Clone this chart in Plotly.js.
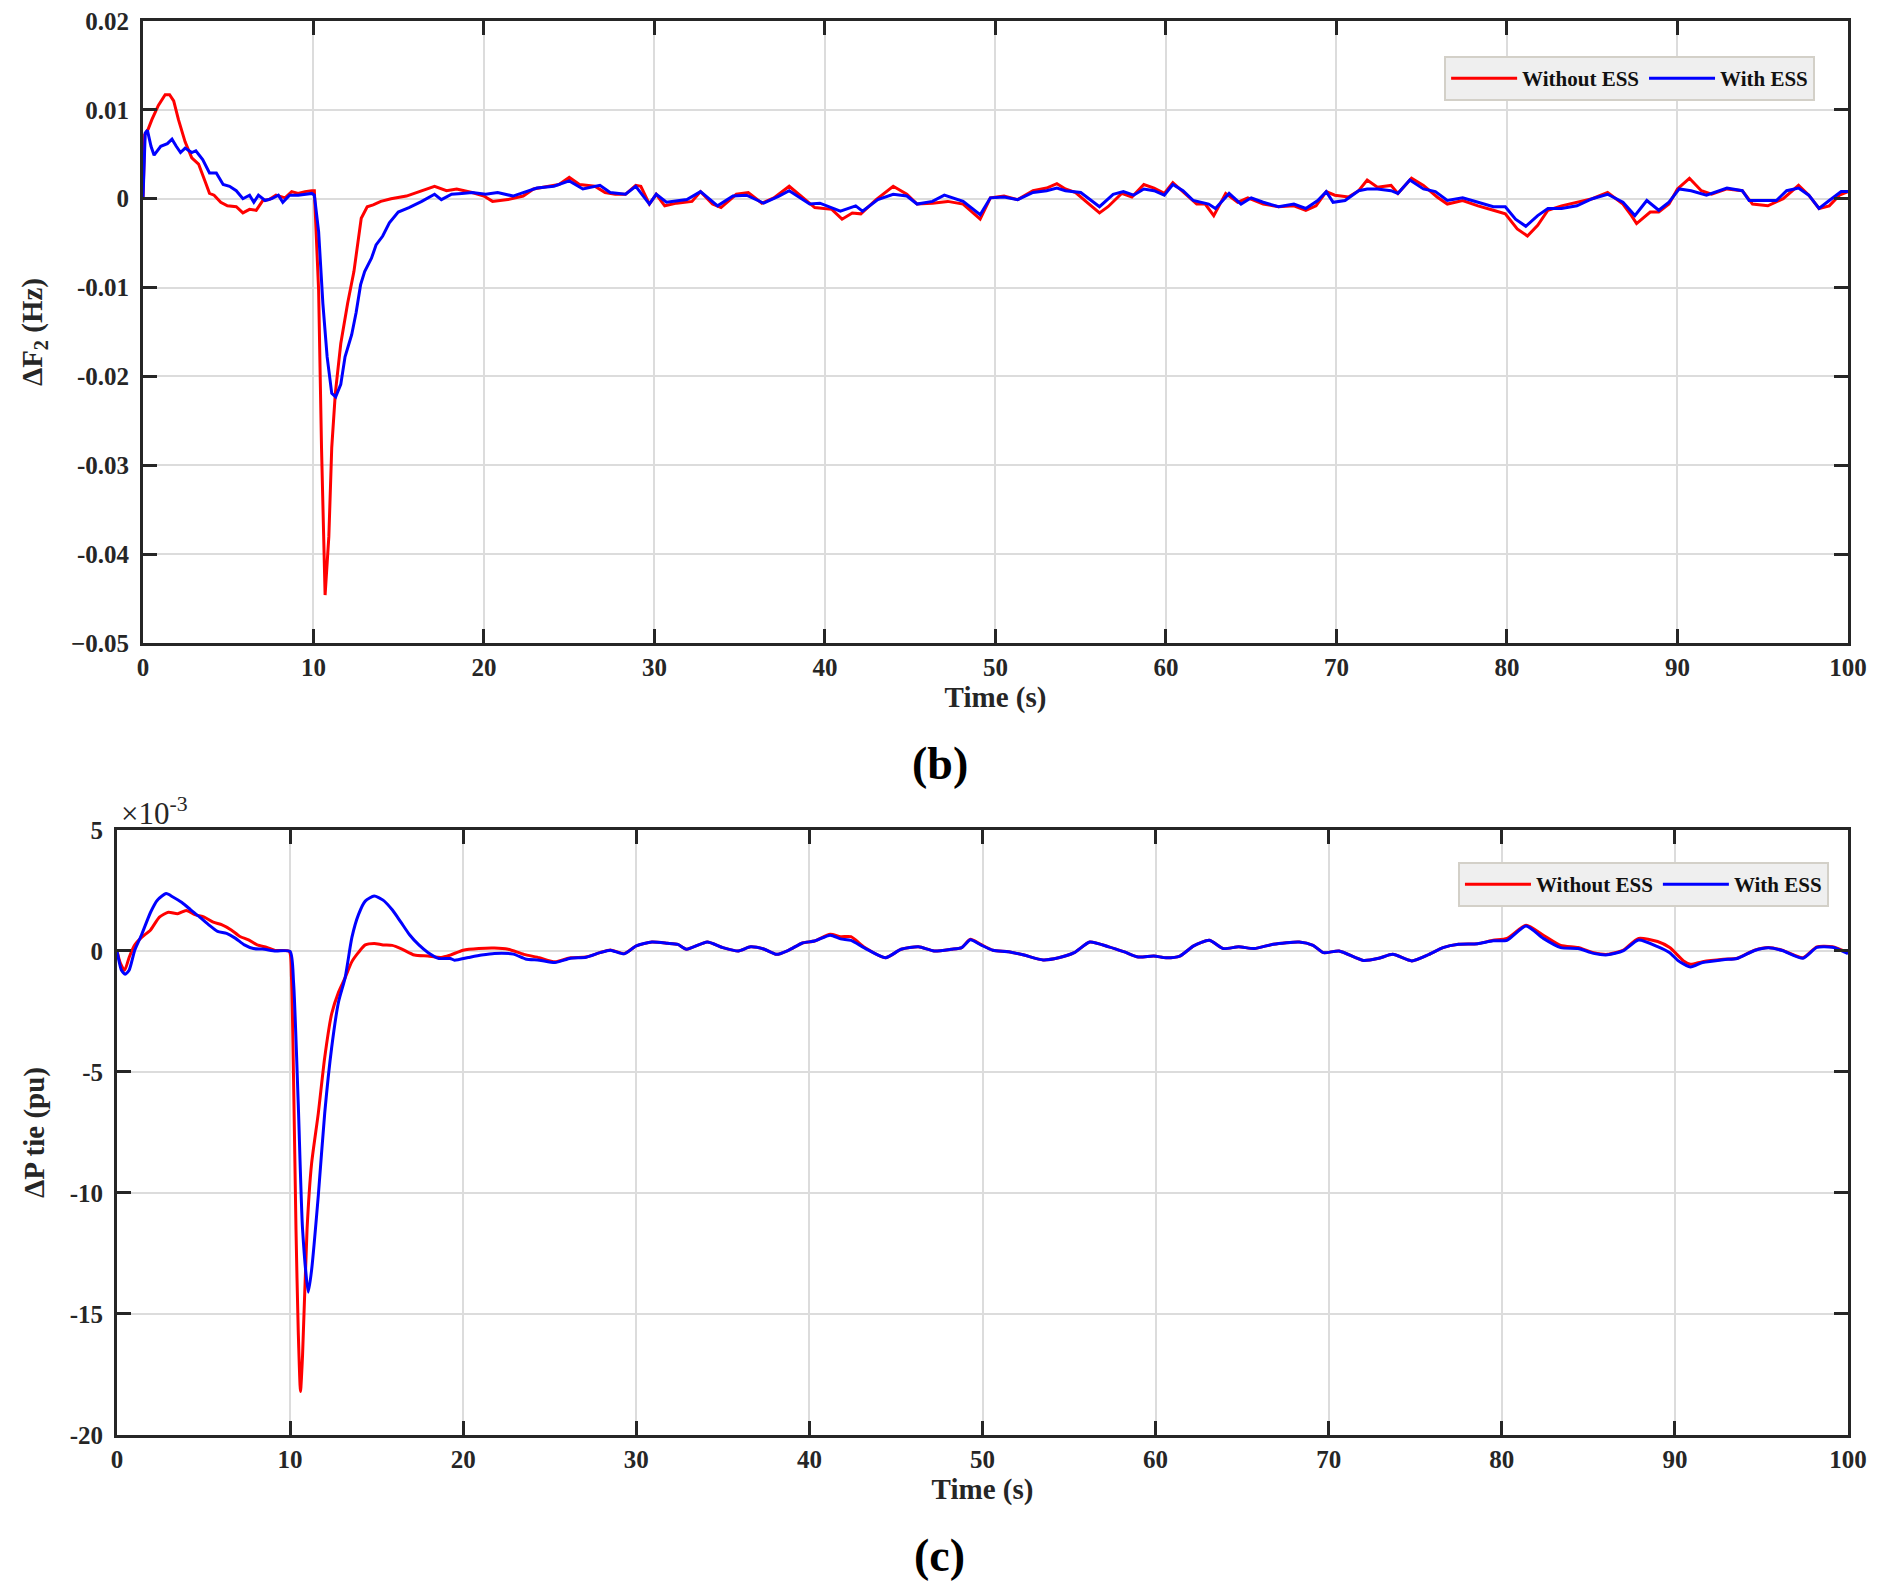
<!DOCTYPE html>
<html>
<head>
<meta charset="utf-8">
<script src="https://cdn.plot.ly/plotly-3.0.1.min.js"></script>
<style>
  html, body { margin: 0; padding: 0; background: #ffffff; }
  #chart { width: 1883px; height: 1592px; }
</style>
</head>
<body>
<div id="chart"></div>
<script>
// ---------- Panel (b): frequency deviation of area 2 (Hz) ----------
const tF2Without = [0,0.1,0.3,0.52,0.9,1.3,1.56,1.8,2.08,2.47,
  2.86,3.26,3.65,3.9,4.17,4.56,4.95,5.47,5.86,6.25,
  6.64,7.03,7.4,7.8,8.33,8.72,9.1,9.5,9.9,10.05,
  10.3,10.47,10.68,10.9,11.07,11.28,11.6,12.0,12.37,12.63,
  12.8,13.15,13.5,13.95,14.55,15.45,16.3,17.1,17.8,18.4,
  19.3,20.0,20.5,21.4,22.3,22.9,23.8,24.4,25.0,25.6,
  26.5,27.1,27.7,28.3,28.9,29.2,29.7,30.1,30.6,31.3,
  32.2,32.7,33.4,33.9,34.8,35.5,36.3,37.0,37.9,38.8,
  39.4,40.4,41.0,41.6,42.1,43.0,44.0,44.8,45.4,46.3,
  47.2,48.1,49.1,49.7,50.5,51.3,52.2,53.0,53.6,54.1,
  54.7,55.3,56.1,56.6,57.4,58.0,58.7,59.3,59.9,60.4,
  61.0,61.8,62.3,62.8,63.5,64.2,64.8,65.7,66.6,67.5,
  68.2,68.8,69.4,69.9,70.7,71.3,71.8,72.4,73.2,73.6,
  74.4,75.1,75.9,76.5,77.4,78.3,79.2,79.9,80.6,81.2,
  81.8,82.4,83.2,84.1,85.0,85.9,86.8,87.3,87.6,88.4,
  88.9,89.5,90.0,90.7,91.4,92.0,92.9,93.8,94.4,95.3,
  96.2,97.1,97.7,98.3,98.9,99.5,100];
const dF2Without = [0,0.0072,0.0078,0.0089,0.0105,0.0117,0.0117,0.011,0.0089,0.0064,
  0.0046,0.0039,0.0019,0.0006,0.0004,-0.0004,-0.0008,-0.0009,-0.0016,-0.0012,
  -0.0013,-0.0002,-0.0001,0.0004,0.0001,0.0008,0.0006,0.0008,0.0009,0.0009,
  -0.0103,-0.028,-0.0446,-0.038,-0.028,-0.0219,-0.0163,-0.0118,-0.0082,-0.0047,
  -0.0022,-0.0009,-0.0007,-0.0003,0.0,0.0003,0.0009,0.0014,0.0009,0.0011,
  0.0007,0.0003,-0.0003,-0.0001,0.0003,0.0011,0.0014,0.0016,0.0024,0.0016,
  0.0014,0.0007,0.0005,0.0005,0.0015,0.0014,-0.0006,0.0005,-0.0008,-0.0005,
  -0.0003,0.0008,-0.0006,-0.001,0.0005,0.0007,-0.0005,0.0001,0.0014,-0.0001,
  -0.001,-0.0012,-0.0023,-0.0016,-0.0017,-0.0001,0.0014,0.0005,-0.0006,-0.0005,
  -0.0003,-0.0006,-0.0023,0.0001,0.0003,-0.0001,0.0009,0.0012,0.0017,0.0011,
  0.0007,-0.0003,-0.0016,-0.0009,0.0006,0.0002,0.0016,0.0012,0.0006,0.0018,
  0.0008,-0.0006,-0.0006,-0.0019,0.0006,-0.0004,0.0001,-0.0006,-0.0009,-0.0008,
  -0.0013,-0.0008,0.0008,0.0004,0.0002,0.0009,0.0021,0.0013,0.0015,0.0006,
  0.0023,0.0015,0.0002,-0.0006,-0.0002,-0.0008,-0.0013,-0.0017,-0.0034,-0.0042,
  -0.003,-0.0013,-0.0008,-0.0004,0.0,0.0007,-0.0006,-0.0019,-0.0028,-0.0015,
  -0.0015,-0.0006,0.0011,0.0023,0.0009,0.0005,0.0011,0.0009,-0.0006,-0.0008,
  0.0,0.0015,0.0004,-0.0011,-0.0008,0.0004,0.0008];

const tF2With = [0,0.13,0.26,0.47,0.65,1.04,1.43,1.7,1.95,2.2,
  2.47,2.86,3.1,3.5,3.9,4.3,4.7,5.08,5.47,5.86,
  6.25,6.5,6.77,7.16,7.55,7.94,8.2,8.6,9.1,9.6,
  9.9,10.05,10.3,10.55,10.8,11.07,11.3,11.6,11.85,12.24,
  12.5,12.76,13.0,13.4,13.67,14.06,14.45,14.97,15.6,16.35,
  17.1,17.5,18.1,18.7,19.3,20.1,20.8,21.7,22.3,23.1,
  24.1,25.0,25.8,26.8,27.4,28.3,28.9,29.7,30.1,30.7,
  31.9,32.7,33.7,34.6,35.4,36.4,37.3,37.9,39.1,39.7,
  40.9,41.8,42.2,43.1,44.0,44.8,45.4,46.3,47.0,48.1,
  49.1,49.7,50.5,51.3,52.2,53.0,53.6,54.1,55.0,55.5,
  56.1,56.9,57.5,58.1,58.7,59.3,59.9,60.4,61.0,61.6,
  62.5,62.9,63.7,64.4,65.0,65.7,66.6,67.5,68.2,68.9,
  69.4,69.8,70.5,71.3,71.8,72.4,73.2,73.6,74.3,75.1,
  75.8,76.5,77.4,78.3,79.2,79.9,80.5,81.1,81.8,82.4,
  83.2,84.1,85.0,85.9,86.8,87.5,88.2,88.9,89.5,90.1,
  90.8,91.7,92.9,93.8,94.2,95.1,95.8,96.4,97.1,97.7,
  98.3,98.9,99.6,100];
const dF2With = [0,0.0074,0.0077,0.0059,0.0049,0.0059,0.0062,0.0067,0.0059,0.0052,
  0.0057,0.0052,0.0054,0.0044,0.0029,0.0029,0.0016,0.0014,0.0009,0.0,
  0.0004,-0.0004,0.0004,-0.0002,0.0,0.0004,-0.0004,0.0004,0.0004,0.0005,
  0.0006,0.0004,-0.0037,-0.0118,-0.0178,-0.0219,-0.0223,-0.0209,-0.0178,-0.0153,
  -0.0128,-0.0097,-0.0082,-0.0067,-0.0052,-0.0042,-0.0027,-0.0015,-0.001,-0.0003,
  0.0005,-0.0001,0.0005,0.0006,0.0007,0.0005,0.0007,0.0003,0.0007,0.0012,
  0.0014,0.002,0.0011,0.0015,0.0007,0.0005,0.0014,-0.0006,0.0005,-0.0004,
  -0.0001,0.0008,-0.0008,0.0003,0.0004,-0.0005,0.0003,0.0009,-0.0006,-0.0005,
  -0.0014,-0.0008,-0.0014,-0.0001,0.0005,0.0003,-0.0006,-0.0003,0.0004,-0.0003,
  -0.0018,0.0001,0.0002,-0.0001,0.0007,0.0009,0.0012,0.0009,0.0007,0.0,
  -0.0009,0.0005,0.0008,0.0004,0.0011,0.0009,0.0004,0.0016,0.0009,-0.0002,
  -0.0006,-0.0011,0.0006,-0.0006,0.0001,-0.0004,-0.0009,-0.0006,-0.0011,-0.0002,
  0.0008,-0.0004,-0.0002,0.0009,0.0011,0.0011,0.0009,0.0006,0.0021,0.0011,
  0.0008,-0.0002,0.0001,-0.0004,-0.0009,-0.0009,-0.0023,-0.0031,-0.0019,-0.0011,
  -0.0011,-0.0008,0.0,0.0005,-0.0004,-0.0019,-0.0002,-0.0013,-0.0004,0.0011,
  0.0009,0.0004,0.0012,0.0009,-0.0002,-0.0002,-0.0002,0.0009,0.0012,0.0004,
  -0.0011,-0.0002,0.0008,0.0008];

// ---------- Panel (c): tie-line power deviation (x 10^-3 pu) ----------
const tPtieWithout = [0,0.18,0.44,0.7,1.03,1.42,1.94,2.45,2.97,3.5,
  4.0,4.5,5.04,5.56,6.07,6.6,7.1,7.6,8.1,8.66,
  9.17,9.95,10.08,10.2,10.34,10.47,10.6,10.72,10.98,11.24,
  11.63,12.0,12.4,12.8,13.18,13.57,13.95,14.34,14.86,15.37,
  15.9,16.4,17.18,17.96,18.73,19.25,20.0,20.9,21.8,22.6,
  23.5,24.4,25.3,26.2,27.1,27.9,28.5,29.3,30.0,30.9,
  31.8,32.4,32.9,34.1,35.0,35.9,36.6,37.4,38.1,38.8,
  39.6,40.3,41.2,41.8,42.4,43.2,44.4,45.3,46.3,47.2,
  48.2,48.8,49.3,49.9,50.6,51.5,52.4,53.5,54.4,55.3,
  56.2,57.3,58.2,59.0,59.9,60.6,61.4,62.2,63.1,63.9,
  64.8,65.7,66.8,68.3,69.1,69.7,70.6,72.0,72.9,73.7,
  74.8,75.8,76.6,77.5,78.6,79.5,80.3,81.4,82.4,83.4,
  84.4,85.3,86.1,87.0,87.9,89.0,89.7,90.5,90.9,91.6,
  92.8,93.6,94.6,95.4,96.2,97.4,98.2,99.1,100];
const pTieWithout = [0,-0.48,-0.8,-0.27,0.25,0.56,0.87,1.4,1.6,1.54,
  1.67,1.5,1.4,1.19,1.08,0.87,0.6,0.46,0.25,0.15,
  0.02,-0.02,-1.1,-5.3,-11.5,-15.7,-18.2,-16.7,-11.5,-8.8,
  -6.7,-4.4,-2.6,-1.7,-1.1,-0.44,-0.06,0.25,0.31,0.25,
  0.23,0.1,-0.17,-0.21,-0.27,-0.17,0.03,0.1,0.12,0.07,
  -0.14,-0.28,-0.45,-0.28,-0.25,-0.07,0.04,-0.11,0.21,0.37,
  0.32,0.27,0.07,0.37,0.14,0.0,0.17,0.07,-0.14,0.03,
  0.33,0.41,0.69,0.59,0.59,0.14,-0.28,0.07,0.17,0.0,
  0.07,0.14,0.48,0.27,0.03,-0.03,-0.17,-0.37,-0.28,-0.07,
  0.37,0.17,-0.04,-0.25,-0.21,-0.28,-0.21,0.21,0.44,0.1,
  0.17,0.1,0.28,0.37,0.23,-0.07,0.0,-0.39,-0.3,-0.14,
  -0.41,-0.14,0.14,0.28,0.3,0.44,0.52,1.06,0.65,0.23,
  0.14,-0.07,-0.14,0.03,0.52,0.39,0.14,-0.41,-0.55,-0.44,
  -0.34,-0.3,0.03,0.14,0.03,-0.28,0.17,0.17,-0.07];

const tPtieWith = [0,0.26,0.47,0.7,1.03,1.42,1.94,2.33,2.84,3.23,
  3.75,4.26,4.78,5.3,5.81,6.33,6.85,7.36,7.88,8.4,
  9.17,10.0,10.2,10.47,10.72,11.05,11.24,11.63,12.0,12.4,
  12.8,13.18,13.57,13.95,14.34,14.86,15.37,15.9,16.4,16.9,
  17.44,17.96,18.6,19.25,19.5,20.3,21.06,21.8,22.9,23.6,
  24.4,25.3,26.2,27.1,27.9,28.5,29.3,30.0,30.9,31.8,
  32.4,32.9,34.1,35.0,35.9,36.6,37.4,38.1,38.8,39.6,
  40.3,41.2,41.8,42.4,43.2,44.4,45.3,46.3,47.2,48.2,
  48.8,49.3,49.9,50.6,51.5,52.4,53.5,54.4,55.3,56.2,
  57.3,58.2,59.0,59.9,60.6,61.4,62.2,63.1,63.9,64.8,
  65.7,66.8,68.3,69.1,69.7,70.6,72.0,72.9,73.7,74.8,
  75.8,76.6,77.5,78.6,79.5,80.3,81.4,82.4,83.4,84.4,
  85.3,86.1,87.0,87.9,89.0,89.7,90.2,90.9,91.6,92.8,
  93.6,94.6,95.4,96.2,97.4,98.2,99.1,100];
const pTieWith = [0,-0.8,-0.96,-0.8,0.04,0.67,1.6,2.1,2.37,2.23,
  2.0,1.7,1.4,1.08,0.81,0.73,0.52,0.25,0.1,0.08,
  0.0,-0.02,-1.3,-6.3,-11.5,-14.1,-13.2,-10.1,-6.7,-4.0,
  -2.1,-1.1,0.56,1.5,2.06,2.27,2.1,1.7,1.19,0.67,
  0.25,-0.06,-0.31,-0.31,-0.38,-0.27,-0.17,-0.1,-0.13,-0.33,
  -0.38,-0.48,-0.3,-0.26,-0.07,0.03,-0.12,0.21,0.37,0.32,
  0.27,0.07,0.37,0.14,0.0,0.17,0.07,-0.14,0.03,0.33,
  0.41,0.65,0.5,0.44,0.12,-0.28,0.07,0.17,0.0,0.07,
  0.14,0.46,0.25,0.03,-0.03,-0.17,-0.37,-0.28,-0.07,0.37,
  0.17,-0.04,-0.25,-0.21,-0.28,-0.21,0.21,0.44,0.1,0.17,
  0.1,0.28,0.37,0.23,-0.07,0.0,-0.39,-0.3,-0.14,-0.41,
  -0.14,0.14,0.28,0.3,0.42,0.44,1.03,0.52,0.14,0.1,
  -0.1,-0.16,0.0,0.45,0.18,-0.07,-0.41,-0.66,-0.48,-0.36,
  -0.31,0.02,0.13,0.02,-0.3,0.15,0.15,-0.11];

// ---------- Tick labels ----------
const xTickVals = [0,10,20,30,40,50,60,70,80,90,100];
const xTickText = ['0','10','20','30','40','50','60','70','80','90','100'];
const yF2TickVals = [-0.05,-0.04,-0.03,-0.02,-0.01,0,0.01,0.02];
const yF2TickText = ['\u22120.05','-0.04','-0.03','-0.02','-0.01','0','0.01','0.02'];
const yPtieTickVals = [-20,-15,-10,-5,0,5];
const yPtieTickText = ['-20','-15','-10','-5','0','5'];
const seriesNames = ['Without ESS', 'With ESS'];

// ---------- Styling ----------
const INK = '#262626';
const SERIF = 'Liberation Serif, Times New Roman, serif';
const tickFont = {family: SERIF, size: 25, color: INK, weight: 'bold'};
const titleFont = {family: SERIF, size: 29, color: INK, weight: 'bold'};

function axisStyle(extra) {
  return Object.assign({
    showline: true, linecolor: INK, linewidth: 3, mirror: 'ticks',
    ticks: 'inside', ticklen: 14, tickwidth: 3, tickcolor: INK,
    showgrid: true, gridcolor: '#dcdcdc', gridwidth: 2,
    zeroline: false, tickfont: tickFont, ticklabelstandoff: 6,
    fixedrange: true
  }, extra);
}

const traces = [
  {x: tF2Without, y: dF2Without, name: seriesNames[0], type: 'scatter', mode: 'lines',
   line: {color: '#ff0000', width: 3}, xaxis: 'x', yaxis: 'y', legend: 'legend'},
  {x: tF2With, y: dF2With, name: seriesNames[1], type: 'scatter', mode: 'lines',
   line: {color: '#0000ff', width: 3}, xaxis: 'x', yaxis: 'y', legend: 'legend'},
  {x: tPtieWithout, y: pTieWithout, name: seriesNames[0], type: 'scatter', mode: 'lines',
   line: {color: '#ff0000', width: 3, shape: 'spline', smoothing: 0.6}, xaxis: 'x2', yaxis: 'y2', legend: 'legend2'},
  {x: tPtieWith, y: pTieWith, name: seriesNames[1], type: 'scatter', mode: 'lines',
   line: {color: '#0000ff', width: 3, shape: 'spline', smoothing: 0.6}, xaxis: 'x2', yaxis: 'y2', legend: 'legend2'}
];

const legendCommon = {
  orientation: 'h', bgcolor: '#efefef', bordercolor: '#d3d0c8', borderwidth: 2,
  font: {family: SERIF, size: 21, color: '#111111', weight: 'bold'},
  xanchor: 'right', yanchor: 'top', itemwidth: 66, tracegroupgap: 0, itemclick: false
};

const layout = {
  width: 1883, height: 1592,
  paper_bgcolor: '#ffffff', plot_bgcolor: '#ffffff',
  margin: {l: 117, r: 35, t: 21, b: 157},
  showlegend: true,
  hovermode: false,
  xaxis: axisStyle({domain: [0.01502, 1], range: [0, 100], anchor: 'y',
    tickvals: xTickVals, ticktext: xTickText, ticklabelstandoff: 0,
    title: {text: 'Time (s)', font: titleFont, standoff: 1}}),
  yaxis: axisStyle({domain: [0.5601, 1], range: [-0.05, 0.02], anchor: 'x',
    tickvals: yF2TickVals, ticktext: yF2TickText,
    title: {text: '\u0394F<sub>2</sub> (Hz)', font: titleFont, standoff: 20}}),
  xaxis2: axisStyle({domain: [0, 1], range: [0, 100], anchor: 'y2',
    tickvals: xTickVals, ticktext: xTickText, ticklabelstandoff: 0,
    title: {text: 'Time (s)', font: titleFont, standoff: 1}}),
  yaxis2: axisStyle({domain: [0, 0.4279], range: [-20, 5], anchor: 'x2',
    tickvals: yPtieTickVals, ticktext: yPtieTickText,
    title: {text: '\u0394P tie (pu)', font: titleFont, standoff: 17}}),
  legend: Object.assign({}, legendCommon, {x: 0.981, y: 0.9752}),
  legend2: Object.assign({}, legendCommon, {x: 0.989, y: 0.4052}),
  annotations: [
    {text: '\u00d710<sup>-3</sup>', xref: 'paper', yref: 'paper', x: 0.0, y: 0.4279,
     xanchor: 'left', yanchor: 'bottom', xshift: 2, yshift: -3, showarrow: false,
     font: {family: SERIF, size: 31, color: INK}},
    {text: '(b)', xref: 'paper', yref: 'paper', x: 0.4754, y: 0.4752,
     xanchor: 'center', yanchor: 'middle', showarrow: false,
     font: {family: SERIF, size: 46, color: '#000000', weight: 'bold'}},
    {text: '(c)', xref: 'paper', yref: 'paper', x: 0.4754, y: -0.0849,
     xanchor: 'center', yanchor: 'middle', showarrow: false,
     font: {family: SERIF, size: 46, color: '#000000', weight: 'bold'}}
  ]
};

Plotly.newPlot('chart', traces, layout, {displayModeBar: false, responsive: false});
</script>
</body>
</html>
